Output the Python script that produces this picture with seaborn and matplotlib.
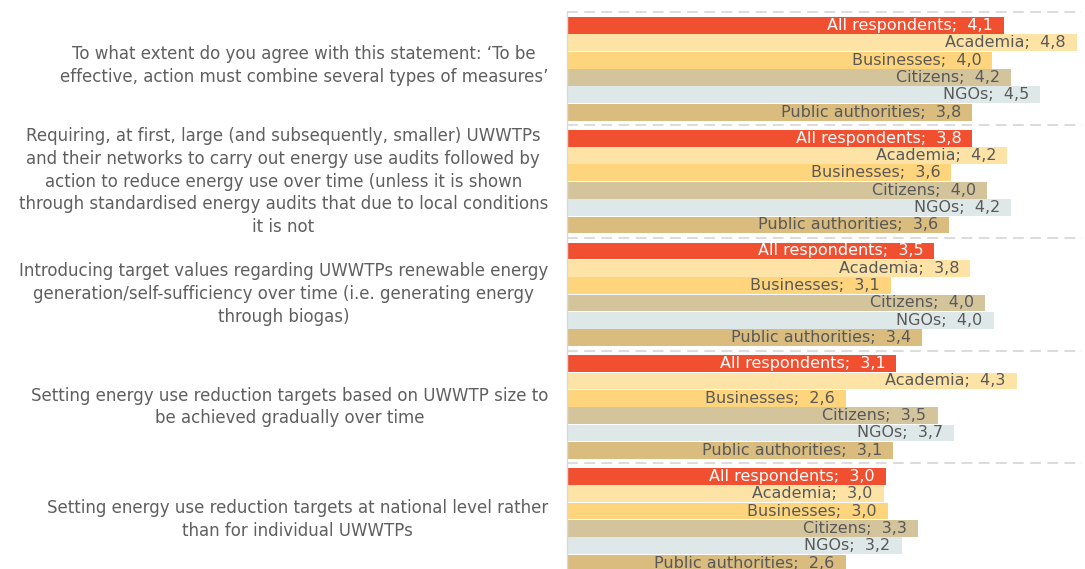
import matplotlib
matplotlib.use("Agg")
import matplotlib.pyplot as plt
import matplotlib.transforms as mtransforms
import seaborn as sns
import pandas as pd

# ---- data ----
questions = [
    "To what extent do you agree with this statement: \u2018To be\neffective, action must combine several types of measures\u2019",
    "Requiring, at first, large (and subsequently, smaller) UWWTPs\nand their networks to carry out energy use audits followed by\naction to reduce energy use over time (unless it is shown\nthrough standardised energy audits that due to local conditions\nit is not",
    "Introducing target values regarding UWWTPs renewable energy\ngeneration/self-sufficiency over time (i.e. generating energy\nthrough biogas)",
    "Setting energy use reduction targets based on UWWTP size to\nbe achieved gradually over time",
    "Setting energy use reduction targets at national level rather\nthan for individual UWWTPs",
]
groups = ["All respondents", "Academia", "Businesses", "Citizens", "NGOs", "Public authorities"]

all_respondents    = [4.14, 3.84, 3.48, 3.12, 3.02]
academia           = [4.83, 4.17, 3.82, 4.26, 3.00]
businesses         = [4.03, 3.64, 3.07, 2.64, 3.04]
citizens           = [4.21, 3.98, 3.96, 3.51, 3.32]
ngos               = [4.48, 4.21, 4.04, 3.67, 3.17]
public_authorities = [3.84, 3.62, 3.36, 3.09, 2.64]

colors = ["#F04F30", "#FEE3A6", "#FED57D", "#D4C49C", "#DFE8E8", "#D9BC7E"]

# ---- build table ----
series = [all_respondents, academia, businesses, citizens, ngos, public_authorities]
GAP = 6.5
rows = []
for qi in range(len(questions)):
    for gi, g in enumerate(groups):
        rows.append({"q": qi, "group": g, "value": series[gi][qi], "pos": qi * GAP + gi})
df = pd.DataFrame(rows)

W, H = 1085, 569
fig = plt.figure(figsize=(W / 100, H / 100), dpi=100)
left_px, right_px = 567.3, 1082
ax = fig.add_axes([left_px / W, 0, (right_px - left_px) / W, 1])

sns.barplot(data=df, x="value", y="pos", hue="group", hue_order=groups,
            palette=colors, saturation=1, orient="y", native_scale=True, dodge=False,
            errorbar=None, width=0.97, linewidth=0, legend=False, ax=ax)

scale = 105.5
ax.set_xlim(0, (right_px - left_px) / scale)
px_per_unit = 17.34
top = -0.75 - 12.5 / px_per_unit
ax.set_ylim(top + H / px_per_unit, top)

ax.set_xlabel("")
ax.set_ylabel("")
ax.set_xticks([])
ax.set_yticks([])
for s in ["top", "right", "bottom"]:
    ax.spines[s].set_visible(False)
ax.spines["left"].set_color("#D9D9D9")
ax.spines["left"].set_linewidth(1.0)
ax.spines["left"].set_bounds(-0.75, top + H / px_per_unit)

for qi in range(len(questions) + 1):
    ax.axhline(qi * GAP - 0.75, color="#D9D9D9", lw=1.3, ls=(0, (6, 3.5)), zorder=0)

for _, r in df.iterrows():
    txt = f"{r['group']};  {r['value']:.1f}".replace(".", ",")
    col = "white" if r["group"] == "All respondents" else "#595959"
    ax.annotate(txt, xy=(r["value"], r["pos"]), xytext=(-8, 0), textcoords="offset points",
                ha="right", va="center", fontsize=11.5, color=col, family="DejaVu Sans")

trans = mtransforms.blended_transform_factory(fig.transFigure, ax.transData)
for qi, q in enumerate(questions):
    yoff = -0.2 if qi == 0 else 0.0
    ax.text(548 / W, qi * GAP + 2.5 + yoff, q, transform=trans, ha="right", va="center",
            multialignment="center", fontsize=12, color="#5F5F5F", linespacing=1.35,
            family="DejaVu Sans", clip_on=False)

fig.savefig("out.png", dpi=100, facecolor="white")
